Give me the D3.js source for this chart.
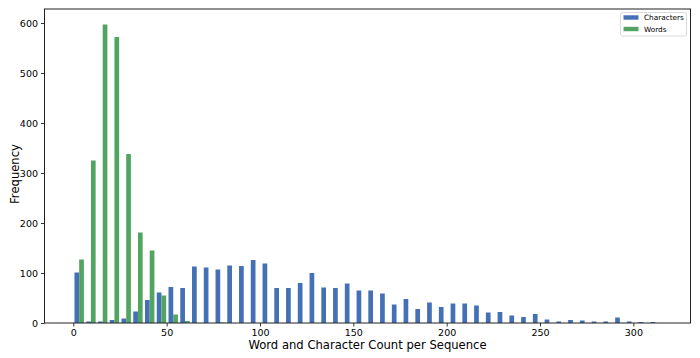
<!DOCTYPE html>
<html>
<head>
<meta charset="utf-8">
<script src="https://cdn.jsdelivr.net/npm/d3@7"></script>
<style>
  html, body { margin: 0; padding: 0; background: #fff; }
  svg { display: block; font-family: "DejaVu Sans", sans-serif; }
</style>
</head>
<body>
<svg id="chart" width="700" height="358"></svg>
<script>
// Histogram bins (50 equal bins over the combined data range)
const binMin = 0;
const binMax = 314.8;
const binCount = 50;

// Frequencies per bin
const characters = [101, 3, 3, 6, 9, 23, 46, 61, 72, 70,
                    113, 111, 107, 115, 114, 126, 119, 70, 70, 80,
                    100, 71, 70, 79, 65, 65, 59, 37, 48, 28,
                    41, 32, 39, 39, 35, 21, 22, 15, 12, 18,
                    7, 3, 6, 5, 3, 3, 11, 3, 2, 2];
const words = [127, 325, 597, 572, 338, 181, 145, 55, 17, 4,
               0, 0, 1, 0, 0, 0, 0, 0, 0, 0,
               0, 0, 0, 0, 0, 0, 0, 0, 0, 0,
               0, 0, 0, 0, 0, 0, 0, 0, 0, 0,
               0, 0, 0, 0, 0, 0, 0, 0, 0, 0];

const seriesNames = ["Characters", "Words"];
const seriesColors = ["#4470b6", "#52a560"];
const xTicks = [0, 50, 100, 150, 200, 250, 300];
const yTicks = [0, 100, 200, 300, 400, 500, 600];
const xLabel = "Word and Character Count per Sequence";
const yLabel = "Frequency";

const svg = d3.select("#chart");
const pL = 44.5, pR = 690.5, pT = 9, pB = 323;

const x = d3.scaleLinear().domain([-15.43, 330.6]).range([pL, pR]);
const y = d3.scaleLinear().domain([0, 628]).range([pB, pT]);

const binW = (binMax - binMin) / binCount;
const data = [characters, words];

data.forEach((vals, s) => {
  svg.append("g").selectAll("rect").data(vals).join("rect")
    .attr("x", (d, i) => x(binMin + i * binW + binW * (0.1 + 0.4 * s)))
    .attr("width", (d, i) => x(binMin + i * binW + binW * (0.5 + 0.4 * s)) - x(binMin + i * binW + binW * (0.1 + 0.4 * s)))
    .attr("y", d => y(d))
    .attr("height", d => y(0) - y(d))
    .attr("fill", seriesColors[s]);
});

// Axes
const xAxis = d3.axisBottom(x).tickValues(xTicks).tickSize(3.5).tickPadding(3).tickFormat(d3.format("d"));
const yAxis = d3.axisLeft(y).tickValues(yTicks).tickSize(3.5).tickPadding(3).tickFormat(d3.format("d"));

const gx = svg.append("g").attr("transform", `translate(0,${pB})`).call(xAxis);
const gy = svg.append("g").attr("transform", `translate(${pL},0)`).call(yAxis);
[gx, gy].forEach(g => {
  g.select(".domain").remove();
  g.selectAll("text").attr("font-size", 9.5).attr("fill", "#000").attr("font-family", "DejaVu Sans");
  g.selectAll("line").attr("stroke", "#000").attr("stroke-width", 0.8);
});

// Frame
svg.append("rect").attr("x", pL).attr("y", pT)
  .attr("width", pR - pL).attr("height", pB - pT)
  .attr("fill", "none").attr("stroke", "#222").attr("stroke-width", 1);

// Axis labels
svg.append("text").attr("x", 367.5).attr("y", 349)
  .attr("text-anchor", "middle").attr("font-size", 11.6).attr("fill", "#000").text(xLabel);
svg.append("text").attr("transform", `translate(19,174) rotate(-90)`)
  .attr("text-anchor", "middle").attr("font-size", 11.6).attr("fill", "#000").text(yLabel);

// Legend
const lg = svg.append("g");
lg.append("rect").attr("x", 620.5).attr("y", 12.5).attr("width", 66).attr("height", 23.5)
  .attr("rx", 2).attr("fill", "#fff").attr("stroke", "#d0d0d0").attr("stroke-width", 0.8);
seriesNames.forEach((name, i) => {
  const cy = 17.5 + i * 11.5;
  lg.append("rect").attr("x", 623.5).attr("y", cy - 2.2).attr("width", 15).attr("height", 4.4)
    .attr("fill", seriesColors[i]);
  lg.append("text").attr("x", 644).attr("y", cy + 2.6).attr("font-size", 7.3).attr("fill", "#000").text(name);
});
</script>
</body>
</html>
